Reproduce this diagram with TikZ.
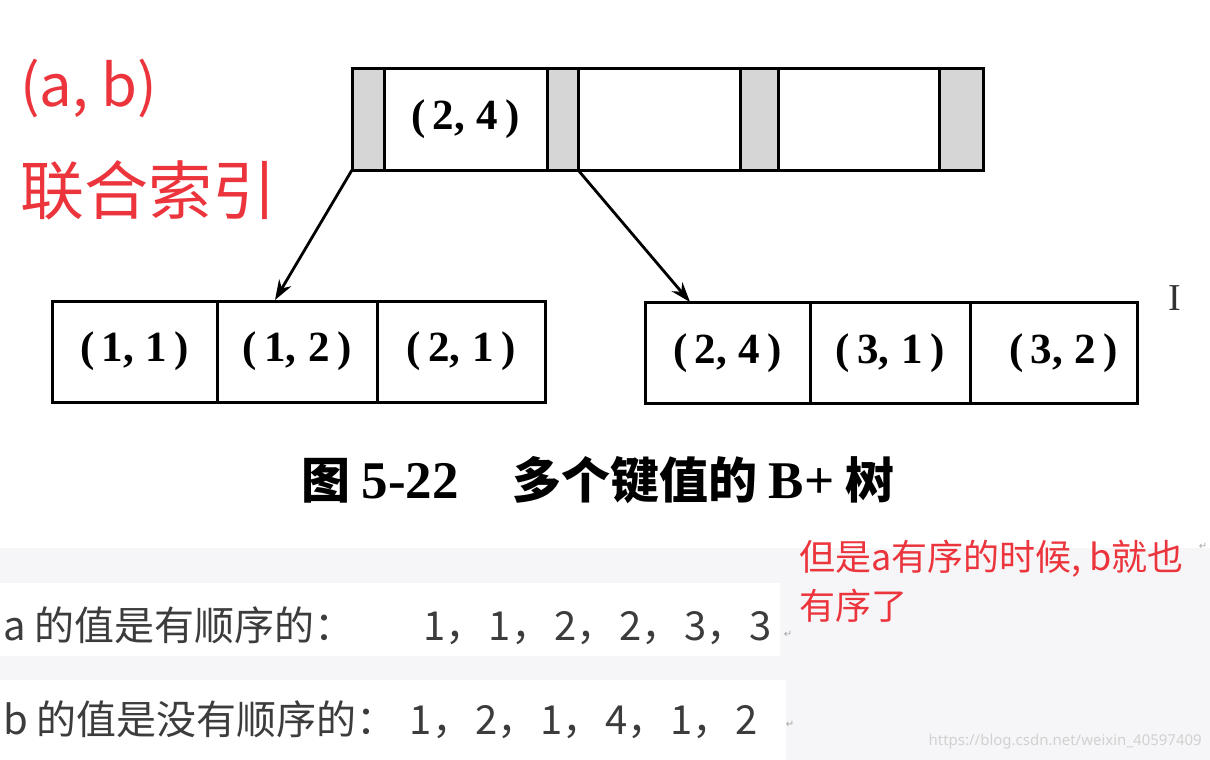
\documentclass[tikz,border=0pt]{standalone}
\usepackage{fontspec}
\setmainfont{Liberation Serif}
\newfontfamily\cjk{Noto Sans CJK SC}
\newfontfamily\wmfont{Noto Sans}
\newfontfamily\symfont{DejaVu Sans}
\usetikzlibrary{arrows.meta}
\definecolor{markred}{RGB}{236,52,60}
\definecolor{ptrgray}{RGB}{214,214,214}
\definecolor{pagegray}{RGB}{246,246,248}
\definecolor{bodytext}{RGB}{60,60,60}
\newcommand{\keyfont}{\fontsize{43}{43}\selectfont\bfseries}
\begin{document}
\begin{tikzpicture}[x=1pt, y=-1pt,
  cell/.style={draw,line width=3pt,minimum height=101pt,inner sep=0pt,outer sep=0pt,font=\keyfont},
  ptr/.style={cell,fill=ptrgray},
  link/.style={line width=2.8pt,-{Stealth[length=20pt,width=14pt]}},
  redtext/.style={text=markred,inner sep=0pt},
  retmark/.style={text=black!35,font=\symfont\fontsize{10}{10}\selectfont}]
\useasboundingbox (0,0) rectangle (1210,760);
% page background of the lower part
\fill[pagegray] (0,548) rectangle (1210,760);
\fill[white] (0,583) rectangle (780,656);
\fill[white] (0,680) rectangle (786,760);
% root node
\node[ptr,minimum width=32pt] (p1) at (368,119.5) {};
\node[cell,minimum width=163pt] (k1) at (465.5,119.5) {(\,2,\;4\,)};
\node[ptr,minimum width=31pt] (p2) at (562.5,119.5) {};
\node[cell,minimum width=162pt] (k2) at (659,119.5) {};
\node[ptr,minimum width=38pt] (p3) at (759,119.5) {};
\node[cell,minimum width=161pt] (k3) at (858.5,119.5) {};
\node[ptr,minimum width=44pt] (p4) at (961,119.5) {};
% leaves
\node[cell,minimum width=165pt] (l1) at (134.5,351.5) {(\,1,\;1\,)};
\node[cell,minimum width=160pt] (l2) at (297,351.5) {(\,1,\;2\,)};
\node[cell,minimum width=168pt] (l3) at (461,351.5) {(\,2,\;1\,)};
\node[cell,minimum width=165pt] (r1) at (727.5,353) {(\,2,\;4\,)};
\node[cell,minimum width=160pt] (r2) at (890,353) {(\,3,\;1\,)};
\node[cell,minimum width=167pt] (r3) at (1053.5,353) {\hspace{20pt}(\,3,\;2\,)};
\coordinate (ltip) at (275,300);
\coordinate (rtip) at (690,302);
\draw[link] (p1.south west) -- (ltip);
\draw[link] (p2.south east) -- (rtip);
% caption
\node[font=\cjk\bfseries\fontsize{49}{49}\selectfont] (cap) at (598,480)
  {图 {\rmfamily\fontsize{53}{53}\selectfont 5-22}\hspace{1.1em}多个键值的 {\rmfamily\fontsize{53}{53}\selectfont B+} 树};
% red notes
\node[redtext,anchor=west,font=\cjk\fontsize{58}{58}\selectfont] (ab) at (20,88) {(a, b)};
\node[redtext,anchor=west,font=\cjk\fontsize{64}{64}\selectfont] (idx) at (20,190) {联合索引};
\node[redtext,anchor=north west,align=left,font=\cjk\fontsize{36}{49}\selectfont] (note) at (799,540)
  {但是a有序的时候, b就也\\有序了};
% text lines below
\node[anchor=west,inner sep=0pt,text=bodytext,font=\cjk\fontsize{40}{40}\selectfont] (la) at (3,626)
  {a 的值是有顺序的：\hspace{69pt}1，\hspace{3pt}1，\hspace{3pt}2，\hspace{3pt}2，\hspace{3pt}3，\hspace{3pt}3};
\node[anchor=west,inner sep=0pt,text=bodytext,font=\cjk\fontsize{40}{40}\selectfont] (lb) at (3,720)
  {b 的值是没有顺序的：\hspace{13pt}1，\hspace{3pt}2，\hspace{3pt}1，\hspace{3pt}4，\hspace{3pt}1，\hspace{3pt}2};
% cursor and return marks
\node[text=black!80,font=\fontsize{38}{38}\selectfont] (cursor) at (1175,298) {I};
\node[retmark] (ret1) at (788,634) {↵};
\node[retmark] (ret2) at (790,724) {↵};
\node[retmark] (ret3) at (1203,546) {↵};
% watermark
\node[anchor=east,inner sep=0pt,text=black!18,font=\wmfont\fontsize{15}{15}\selectfont] (wm) at (1202,742)
  {https://blog.csdn.net/weixin\_40597409};
\end{tikzpicture}
\end{document}
